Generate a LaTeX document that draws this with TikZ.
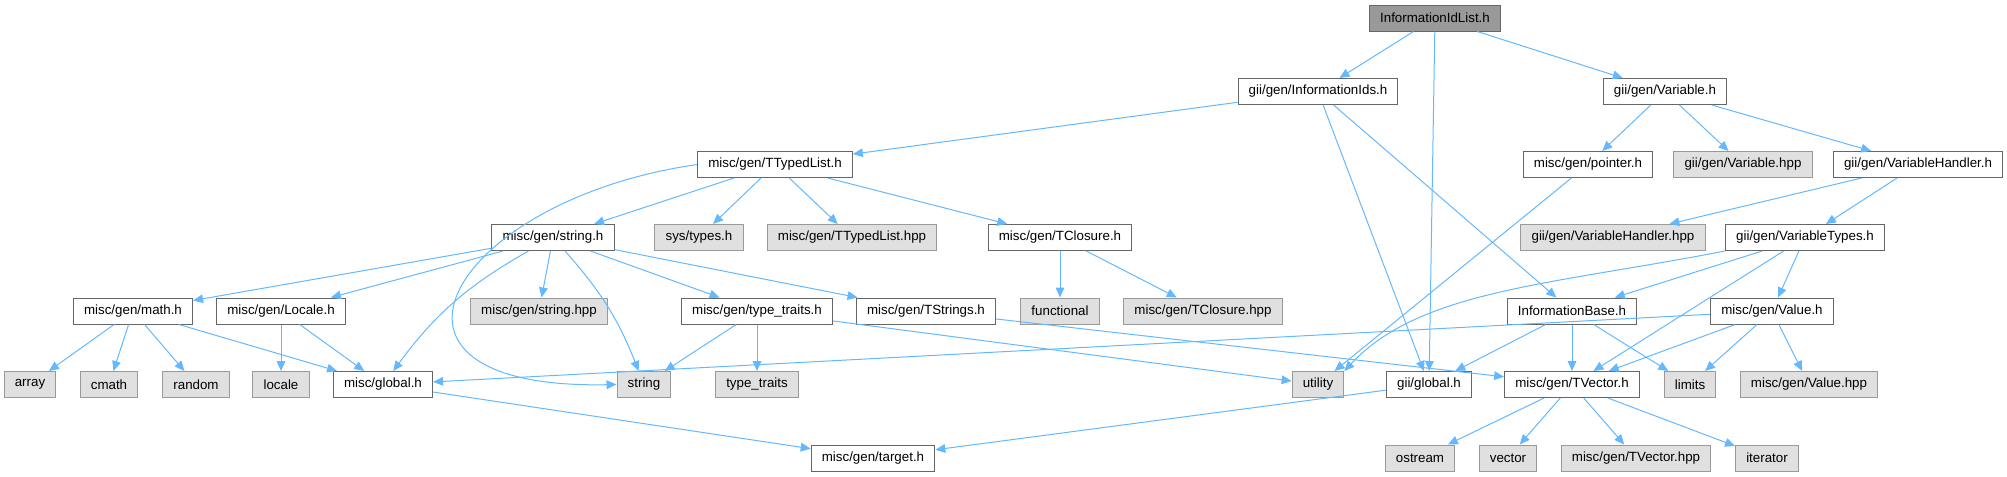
\documentclass[tikz,border=0pt]{standalone}
\usepackage{fontspec}
\setmainfont{Liberation Sans}
\usetikzlibrary{arrows.meta, calc}
\definecolor{edgeblue}{HTML}{63B8FF}
\definecolor{boxgray}{HTML}{E0E0E0}
\definecolor{rootgray}{HTML}{999999}
\definecolor{framegray}{HTML}{666666}

\begin{document}
\begin{tikzpicture}[x=0.75pt, y=-0.75pt, font=\fontsize{10}{12}\selectfont]
% Styles
\tikzstyle{header} = [rectangle, minimum height=19.5pt, inner xsep=8pt, inner ysep=0pt, text centered, draw=framegray, fill=white, line width=0.75pt]
\tikzstyle{extern} = [header, draw=rootgray, fill=boxgray]
\tikzstyle{root} = [header, fill=rootgray]
\tikzstyle{arrow} = [line width=0.75pt, color=edgeblue, -{Triangle[length=7.5pt, width=6.5pt]}]

\useasboundingbox (0,0) rectangle (2007,476);

% rank 0 and 1
\node (information_id_list) [root] at (1435,18) {InformationIdList.h};
\node (information_ids) [header] at (1318,91.5) {gii/gen/InformationIds.h};
\node (variable) [header] at (1665,91.5) {gii/gen/Variable.h};

% rank 2
\node (ttyped_list) [header] at (775,164.5) {misc/gen/TTypedList.h};
\node (pointer) [header] at (1588,164.5) {misc/gen/pointer.h};
\node (variable_hpp) [extern] at (1743,164.5) {gii/gen/Variable.hpp};
\node (variable_handler) [header] at (1918,164.5) {gii/gen/VariableHandler.h};

% rank 3
\node (string_h) [header] at (553,237.5) {misc/gen/string.h};
\node (sys_types) [extern] at (699,237.5) {sys/types.h};
\node (ttyped_list_hpp) [extern] at (852,237.5) {misc/gen/TTypedList.hpp};
\node (tclosure) [header] at (1060,237.5) {misc/gen/TClosure.h};
\node (variable_handler_hpp) [extern] at (1613,237.5) {gii/gen/VariableHandler.hpp};
\node (variable_types) [header] at (1805,237.5) {gii/gen/VariableTypes.h};

% rank 4
\node (math) [header] at (133,311) {misc/gen/math.h};
\node (locale_h) [header] at (281,311) {misc/gen/Locale.h};
\node (string_hpp) [extern] at (539,311) {misc/gen/string.hpp};
\node (type_traits_h) [header] at (757,311) {misc/gen/type\_traits.h};
\node (tstrings) [header] at (926,311) {misc/gen/TStrings.h};
\node (functional) [extern] at (1060,311) {functional};
\node (tclosure_hpp) [extern] at (1203,311) {misc/gen/TClosure.hpp};
\node (information_base) [header] at (1572,311) {InformationBase.h};
\node (value) [header] at (1772,311) {misc/gen/Value.h};

% rank 5
\node (array) [extern] at (30,384.5) {array};
\node (cmath) [extern] at (109,384.5) {cmath};
\node (random) [extern] at (196,384.5) {random};
\node (locale) [extern] at (281,384.5) {locale};
\node (misc_global) [header] at (383,384.5) {misc/global.h};
\node (string) [extern] at (644,384.5) {string};
\node (type_traits) [extern] at (757,384.5) {type\_traits};
\node (utility) [extern] at (1318,384.5) {utility};
\node (gii_global) [header] at (1429,384.5) {gii/global.h};
\node (tvector) [header] at (1572,384.5) {misc/gen/TVector.h};
\node (limits) [extern] at (1690,384.5) {limits};
\node (value_hpp) [extern] at (1809,384.5) {misc/gen/Value.hpp};

% rank 6
\node (target) [header] at (873,458) {misc/gen/target.h};
\node (ostream) [extern] at (1420,458) {ostream};
\node (vector) [extern] at (1508,458) {vector};
\node (tvector_hpp) [extern] at (1636,458) {misc/gen/TVector.hpp};
\node (iterator) [extern] at (1767,458) {iterator};

\draw [arrow] (information_id_list) -- (information_ids);
\draw [arrow] (information_id_list) -- (gii_global);
\draw [arrow] (information_id_list) -- (variable);

\draw [arrow] (information_ids) -- (ttyped_list);
\draw [arrow] (information_ids) -- (gii_global);
\draw [arrow] (information_ids) -- (information_base);

\draw [arrow] (variable) -- (pointer);
\draw [arrow] (variable) -- (variable_hpp);
\draw [arrow] (variable) -- (variable_handler);
\draw [arrow] (pointer) -- (utility);
\draw [arrow] (variable_handler) -- (variable_handler_hpp);
\draw [arrow] (variable_handler) -- (variable_types);

\draw [arrow] (variable_types.south west) .. controls (1550,285) and (1420,290) .. (utility.north east);
\draw [arrow] (variable_types) -- (information_base);
\draw [arrow] (variable_types) -- (tvector);
\draw [arrow] (variable_types) -- (value);

\draw [arrow] (information_base) -- (gii_global);
\draw [arrow] (information_base) -- (tvector);
\draw [arrow] (information_base) -- (limits);

\draw [arrow] (value) -- (misc_global);
\draw [arrow] (value) -- (tvector);
\draw [arrow] (value) -- (limits);
\draw [arrow] (value) -- (value_hpp);

\draw [arrow] (tvector) -- (ostream);
\draw [arrow] (tvector) -- (vector);
\draw [arrow] (tvector) -- (tvector_hpp);
\draw [arrow] (tvector) -- (iterator);

\draw [arrow] (gii_global) -- (target);
\draw [arrow] (misc_global) -- (target);

\draw [arrow] (ttyped_list.west) .. controls (450,200) and (340,390) .. (string.west);
\draw [arrow] (ttyped_list) -- (string_h);
\draw [arrow] (ttyped_list) -- (sys_types);
\draw [arrow] (ttyped_list) -- (ttyped_list_hpp);
\draw [arrow] (ttyped_list) -- (tclosure);
\draw [arrow] (tclosure) -- (functional);
\draw [arrow] (tclosure) -- (tclosure_hpp);

\draw [arrow] (string_h) -- (math);
\draw [arrow] (string_h) -- (locale_h);
\draw [arrow] (string_h) to[bend right=12] (misc_global);
\draw [arrow] (string_h) -- (string_hpp);
\draw [arrow] (string_h) to[bend left=10] (string);
\draw [arrow] (string_h) -- (type_traits_h);
\draw [arrow] (string_h) -- (tstrings);

\draw [arrow] (math) -- (array);
\draw [arrow] (math) -- (cmath);
\draw [arrow] (math) -- (random);
\draw [arrow] (math) -- (misc_global);
\draw [arrow] (locale_h) -- (locale);
\draw [arrow] (locale_h) -- (misc_global);

\draw [arrow] (type_traits_h) -- (string);
\draw [arrow] (type_traits_h) -- (type_traits);
\draw [arrow] (type_traits_h) -- (utility);
\draw [arrow] (tstrings) -- (tvector);

\end{tikzpicture}
\end{document}
